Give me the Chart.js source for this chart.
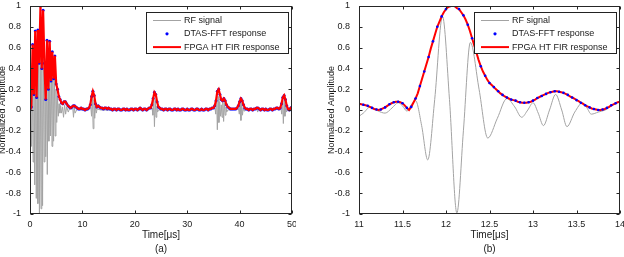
<!DOCTYPE html>
<html>
<head>
<meta charset="utf-8">
<script src="https://cdn.jsdelivr.net/npm/chart.js@4.4.0/dist/chart.umd.min.js"></script>
<style>
  html, body { margin: 0; padding: 0; background: #fff; overflow: hidden; width: 624px; height: 257px; }
  .wrap { position: absolute; top: 0; height: 257px; }
  #wrapA { left: -17px; width: 313px; }
  #wrapB { left: 312px; width: 312px; }
</style>
</head>
<body>
<div class="wrap" id="wrapA"><canvas id="chartA"></canvas></div>
<div class="wrap" id="wrapB"><canvas id="chartB"></canvas></div>
<script>
// ---------- data: panel (a), 0..50 us ----------
const rfTimeA = [
  0, 0.15, 0.3, 0.45, 0.6, 0.75, 0.9, 1.05, 1.2, 1.35, 1.5, 1.65, 1.8, 1.95, 2.1, 2.25, 2.4, 2.55, 2.7, 2.85,
  3.0, 3.15, 3.3, 3.45, 3.6, 3.75, 3.9, 4.05, 4.2, 4.35, 4.5, 4.65, 4.8, 4.95, 5.1, 5.25, 5.4, 5.55, 5.7, 5.85, 6.0,
  6.2, 6.4, 6.6, 6.8, 7.0, 7.3, 7.6, 8.0, 8.15, 8.3, 8.45, 8.6, 9.0, 10.0, 11.0, 11.6, 11.75, 11.9, 12.05, 12.2, 12.35, 12.5, 12.65, 12.8, 13.5,
  15, 17, 19, 21, 23.3, 23.45, 23.6, 23.75, 23.9, 24.05, 24.2, 24.35, 24.5,
  27, 30, 33, 35.3, 35.45, 35.6, 35.75, 35.9, 36.05, 36.2, 36.35, 36.5, 36.65, 36.8, 36.95, 37.1, 37.25, 37.4, 37.55, 37.7,
  39.8, 39.95, 40.1, 40.25, 40.4, 40.55, 40.7, 40.85, 41.0, 43.3, 43.45, 43.6, 45, 47.9, 48.05, 48.2, 48.35, 48.5, 48.65, 48.8, 48.95, 49.1, 50.0
];
const rfA = [
  0.00, 0.05, -0.35, 0.45, -0.50, 0.40, -0.72, 0.50, -0.85, 0.45, -0.90, 0.60, -1.00, 0.65, -0.95, 0.60, -0.92, 0.55, -0.50, 0.30,
  -0.45, 0.45, -0.62, 0.50, -0.30, 0.40, -0.25, 0.45, -0.35, 0.40, -0.30, 0.35, -0.25, 0.20, -0.12, 0.12, -0.06, 0.06, -0.03, 0.04, -0.03,
  0.03, -0.07, 0.05, -0.04, 0.03, -0.02, 0.02, 0.01, 0.03, -0.07, 0.03, -0.03, 0.01, 0.00, 0.00, 0.03, -0.06, 0.15, -0.18, 0.10, -0.08, 0.04, -0.03, 0.01, 0.00,
  0.00, 0.00, 0.00, 0.00, 0.02, -0.05, 0.14, -0.16, 0.10, -0.07, 0.04, -0.02, 0.00,
  0.00, 0.00, 0.00, 0.02, -0.04, 0.16, -0.19, 0.13, -0.12, 0.08, -0.06, 0.05, -0.07, 0.08, -0.11, 0.07, -0.05, 0.03, -0.02, 0.00,
  0.01, -0.04, 0.09, -0.10, 0.07, -0.05, 0.02, -0.01, 0.00, 0.01, -0.02, 0.01, 0.00, 0.01, -0.04, 0.10, -0.13, 0.09, -0.06, 0.03, -0.02, 0.00, 0.01
];
// envelope samples every 0.25 us (one group = 1 us)
const envStepA = 0.25;
const envA = [
  0.00, 0.03, 0.63, 0.15,   0.76, 0.12, 0.77, 0.45,   1.00, 0.40, 0.96, 0.45,   0.10, 0.67, 0.20, 0.66,
  0.28, 0.56, 0.30, 0.52,   0.25, 0.20, 0.13, 0.10,   0.07, 0.06, 0.08, 0.08,   0.06, 0.04, 0.03, 0.02,
  0.03, 0.04, 0.04, 0.03,   0.02, 0.01, 0.01, 0.02,   0.01, 0.01, 0.00, 0.01,   0.01, 0.02, 0.05, 0.13,
  0.18, 0.14, 0.06, 0.03,   0.04, 0.03, 0.02, 0.02,   0.01, 0.02, 0.02, 0.01,   0.02, 0.01, 0.01, 0.00,
  0.01, 0.01, 0.00, 0.01,   0.01, 0.00, 0.00, 0.01,   0.01, 0.00, 0.01, 0.00,   0.00, 0.01, 0.01, 0.00,
  0.01, 0.01, 0.00, 0.01,   0.02, 0.01, 0.00, 0.01,   0.01, 0.00, 0.01, 0.02,   0.02, 0.05, 0.11, 0.17,
  0.15, 0.08, 0.03, 0.02,   0.01, 0.01, 0.00, 0.01,   0.01, 0.00, 0.01, 0.01,   0.00, 0.00, 0.01, 0.01,
  0.00, 0.01, 0.00, 0.00,   0.01, 0.01, 0.00, 0.00,   0.01, 0.00, 0.00, 0.01,   0.01, 0.00, 0.00, 0.01,
  0.01, 0.00, 0.00, 0.01,   0.00, 0.00, 0.01, 0.01,   0.00, 0.01, 0.01, 0.02,   0.02, 0.04, 0.09, 0.18,
  0.20, 0.15, 0.10, 0.09,   0.11, 0.09, 0.05, 0.03,   0.02, 0.01, 0.01, 0.01,   0.01, 0.01, 0.02, 0.04,
  0.08, 0.11, 0.09, 0.05,   0.02, 0.01, 0.01, 0.00,   0.01, 0.01, 0.00, 0.01,   0.01, 0.02, 0.02, 0.01,
  0.00, 0.01, 0.01, 0.00,   0.01, 0.00, 0.00, 0.01,   0.01, 0.00, 0.01, 0.01,   0.02, 0.02, 0.01, 0.02,
  0.06, 0.12, 0.14, 0.10,   0.04, 0.01, 0.00, 0.02,
  0.03
];

// ---------- data: panel (b), 11..14 us ----------
const rfTimeB = [11.0, 11.05, 11.13, 11.22, 11.30, 11.38, 11.45, 11.50, 11.55, 11.60, 11.65, 11.72, 11.79, 11.87, 11.96, 12.04,
  12.125, 12.20, 12.28, 12.38, 12.48, 12.59, 12.70, 12.79, 12.87, 12.94, 13.00, 13.06, 13.12, 13.19, 13.26, 13.33, 13.39, 13.48,
  13.57, 13.62, 13.67, 13.75, 13.83, 13.92, 14.0];
const rfB = [-0.06, -0.03, 0.03, -0.01, -0.03, 0.02, 0.07, 0.04, -0.01, 0.05, 0.09, -0.15, -0.48, 0.10, 0.90, 0.10,
  -0.99, -0.20, 0.65, 0.20, -0.27, -0.08, 0.11, 0.03, -0.07, 0.00, 0.07, -0.03, -0.15, 0.00, 0.15, 0.00, -0.16, -0.02,
  0.07, 0.02, -0.04, -0.02, 0.00, 0.05, 0.08];
// envelope samples every 0.025 us (one row = 0.25 us)
const envStepB = 0.025;
const envB = [
  0.060, 0.055, 0.050, 0.045, 0.040, 0.030, 0.020, 0.010, 0.005, 0.000,
  0.005, 0.015, 0.025, 0.040, 0.055, 0.065, 0.075, 0.080, 0.080, 0.075,
  0.065, 0.045, 0.020, 0.000, 0.030, 0.070, 0.110, 0.160, 0.230, 0.300,
  0.370, 0.440, 0.510, 0.590, 0.660, 0.730, 0.800, 0.850, 0.900, 0.940,
  0.970, 0.990, 1.000, 1.000, 1.000, 0.980, 0.970, 0.940, 0.910, 0.870,
  0.820, 0.760, 0.690, 0.620, 0.550, 0.480, 0.420, 0.370, 0.330, 0.290,
  0.260, 0.240, 0.220, 0.200, 0.180, 0.160, 0.145, 0.130, 0.120, 0.110,
  0.100, 0.095, 0.090, 0.080, 0.075, 0.070, 0.070, 0.070, 0.075, 0.080,
  0.090, 0.100, 0.115, 0.125, 0.135, 0.145, 0.155, 0.165, 0.170, 0.175,
  0.180, 0.180, 0.175, 0.170, 0.165, 0.155, 0.145, 0.130, 0.120, 0.110,
  0.095, 0.085, 0.070, 0.060, 0.045, 0.035, 0.025, 0.015, 0.010, 0.005,
  0.000, 0.000, 0.005, 0.010, 0.020, 0.030, 0.045, 0.055, 0.065, 0.075,
  0.080
];

const seriesLabels = ['RF signal', 'DTAS-FFT response', 'FPGA HT FIR response'];
const yTicks = { min: -1, max: 1, step: 0.2 };

Chart.defaults.font.family = '"Liberation Sans", Arial, sans-serif';
Chart.defaults.color = '#1a1a1a';

const pts = (xs, ys) => ys.map((y, i) => ({ x: xs[i], y }));
const grid = (start, step, ys) => ys.map((y, i) => ({ x: start + i * step, y }));
// matlab style tick text: 1, 0.8, -1, 11.5 ...
const tickText = v => String(Math.round(v * 100) / 100);

// MATLAB-like box with inward ticks + legend box in the upper right
const matlabAxes = {
  id: 'matlabAxes',
  afterDraw(chart) {
    const { ctx, chartArea: a, scales: { x, y } } = chart;
    ctx.save();
    ctx.strokeStyle = '#262626';
    ctx.lineWidth = 1;
    const L = Math.round(a.left) + 0.5, R = Math.round(a.right) - 0.5;
    const T = Math.round(a.top) + 0.5, B = Math.round(a.bottom) - 0.5;
    ctx.strokeRect(L, T, R - L, B - T);
    ctx.beginPath();
    x.ticks.forEach(t => {
      const px = Math.round(x.getPixelForValue(t.value)) + 0.5;
      ctx.moveTo(px, B); ctx.lineTo(px, B - 3);
      ctx.moveTo(px, T); ctx.lineTo(px, T + 3);
    });
    y.ticks.forEach(t => {
      const py = Math.round(y.getPixelForValue(t.value)) + 0.5;
      ctx.moveTo(L, py); ctx.lineTo(L + 3, py);
      ctx.moveTo(R, py); ctx.lineTo(R - 3, py);
    });
    ctx.stroke();

    // legend
    const w = 142, h = 41;
    const left = Math.round(a.right) - 4 - w, top = Math.round(a.top) + 6;
    ctx.fillStyle = '#fff';
    ctx.fillRect(left, top, w, h);
    ctx.strokeStyle = '#222';
    ctx.strokeRect(left + 0.5, top + 0.5, w, h);
    ctx.font = '9px "Liberation Sans", Arial, sans-serif';
    ctx.textBaseline = 'middle';
    ctx.textAlign = 'left';
    chart.data.datasets.forEach((ds, i) => {
      const ly = top + 8.5 + i * 13.3;
      if (ds.showLine === false) {
        ctx.fillStyle = ds.pointBackgroundColor;
        ctx.beginPath();
        ctx.arc(left + 21, ly, 1.6, 0, Math.PI * 2);
        ctx.fill();
      } else {
        ctx.strokeStyle = ds.borderColor;
        ctx.lineWidth = Math.min(ds.borderWidth, 2);
        ctx.beginPath();
        ctx.moveTo(left + 7, ly); ctx.lineTo(left + 35, ly);
        ctx.stroke();
      }
      ctx.fillStyle = '#1a1a1a';
      ctx.fillText(ds.label, left + 38, ly);
    });
    ctx.restore();
  }
};

function makeDatasets(rf, env, smooth, redWidth, dotsOnTop) {
  return [
    { label: seriesLabels[0], data: rf, borderColor: '#a3a3a3', borderWidth: 1, pointRadius: 0,
      cubicInterpolationMode: smooth ? 'monotone' : 'default', order: 3 },
    { label: seriesLabels[1], data: env, showLine: false, pointBorderWidth: 0,
      pointRadius: dotsOnTop ? (c => (c.dataIndex % 2 ? 0 : 1.3)) : 1.5,
      pointBackgroundColor: '#0000ff', order: dotsOnTop ? 0 : 2 },
    { label: seriesLabels[2], data: env, borderColor: '#ff0000', borderWidth: redWidth, pointRadius: 0, order: 1 }
  ];
}

function makeOptions(xMin, xMax, xStep, panel) {
  return {
    responsive: true, maintainAspectRatio: false, animation: false,
    layout: { padding: { top: 6, right: 4, left: 0, bottom: 0 } },
    plugins: { legend: { display: false }, tooltip: { enabled: false } },
    scales: {
      x: {
        type: 'linear', min: xMin, max: xMax,
        grid: { display: false, drawTicks: false }, border: { display: false },
        ticks: { stepSize: xStep, padding: 5, maxRotation: 0, autoSkip: false, font: { size: 9 }, callback: tickText },
        title: { display: true, text: ['Time[\u03bcs]', panel], font: { size: 10, lineHeight: 1.4 }, padding: { top: 0, bottom: 1 } },
        afterFit: s => { s.height = 43; s.paddingLeft = 0; s.paddingRight = 0; }
      },
      y: {
        min: yTicks.min, max: yTicks.max,
        grid: { display: false, drawTicks: false }, border: { display: false },
        ticks: { stepSize: yTicks.step, padding: 9, font: { size: 9 }, callback: tickText },
        title: { display: true, text: 'Normalized Amplitude', font: { size: 9 }, padding: { top: 14, bottom: 0 } },
        afterFit: s => { s.width = 47; s.paddingTop = 0; s.paddingBottom = 0; }
      }
    }
  };
}

new Chart(document.getElementById('chartA'), {
  type: 'line',
  data: { datasets: makeDatasets(pts(rfTimeA, rfA), grid(0, envStepA, envA), false, 2.2, false) },
  options: makeOptions(0, 50, 10, '(a)'),
  plugins: [matlabAxes]
});

new Chart(document.getElementById('chartB'), {
  type: 'line',
  data: { datasets: makeDatasets(pts(rfTimeB, rfB), grid(11, envStepB, envB), true, 2, true) },
  options: makeOptions(11, 14, 0.5, '(b)'),
  plugins: [matlabAxes]
});
</script>
</body>
</html>
